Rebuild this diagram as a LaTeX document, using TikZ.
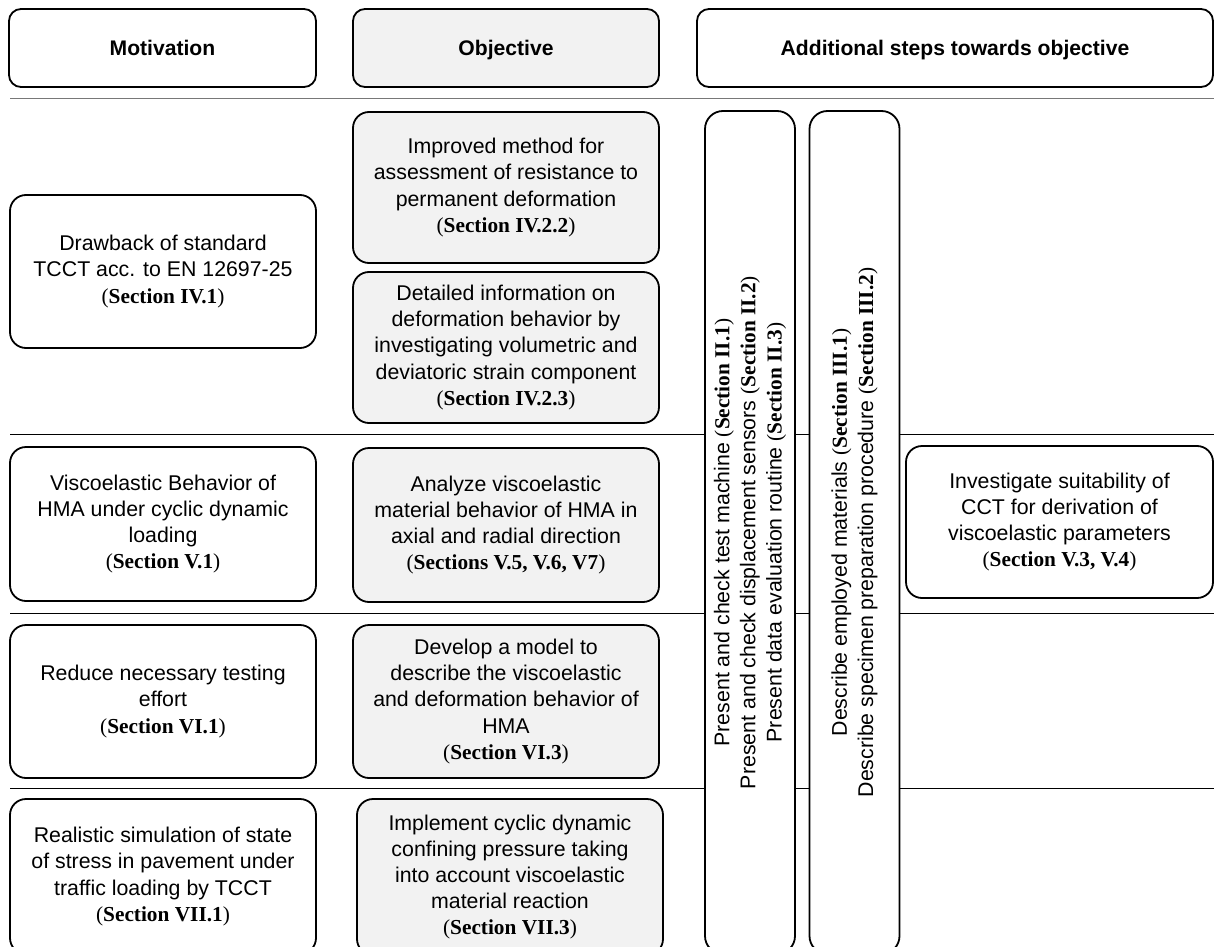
\documentclass[tikz,border=0pt]{standalone}
\usepackage{fontspec}
\setmainfont{Liberation Sans}
\newfontfamily\secfont{Liberation Serif}
\usetikzlibrary{positioning}
\definecolor{objgray}{RGB}{242,242,242}
\definecolor{rulegray}{RGB}{120,120,120}
\newcommand{\secref}[1]{{\secfont(\textbf{#1})}}

\begin{document}
\begin{tikzpicture}[x=1bp,y=1bp,
  headbox/.style={draw=black,line width=1.8bp,fill=white,rounded corners=12bp,inner sep=0pt,font=\fontsize{21.2}{26.3}\selectfont\bfseries,minimum height=78bp,text height=15bp,text depth=0bp},
  motbox/.style={draw=black,line width=1.8bp,fill=white,rounded corners=16bp,inner sep=0pt,align=center,font=\fontsize{21.4}{26.3}\selectfont,minimum width=306bp},
  objbox/.style={motbox,fill=objgray},
  stepbox/.style={motbox,rotate=90,minimum width=843bp,minimum height=90bp,rounded corners=18bp},
  sep/.style={line width=0.9bp,black}
]
\useasboundingbox (0,0) rectangle (1214,-947);
\clip (0,0) rectangle (1214,-947);

% separators between the rows
\draw[sep,rulegray] (10,-98) -- (1214,-98);
\draw[sep] (10,-434) -- (1214,-434);
\draw[sep] (10,-613) -- (1214,-613);
\draw[sep] (10,-788) -- (1214,-788);

% HEADER: three column titles
\node[headbox,minimum width=307bp] (hmot) at (162.5,-48) {Motivation};
\node[headbox,minimum width=306bp,fill=objgray] (hobj) at (506,-48) {Objective};
\node[headbox,minimum width=516bp] (hstep) at (955,-48) {Additional steps towards objective};

% LEFT: motivation
\node[motbox,minimum height=153bp] (mot1) at (163,-271.5) {Drawback of standard\\TCCT acc. to EN 12697-25\\\secref{Section IV.1}};
\node[motbox,minimum height=154bp] (mot2) at (163,-524) {Viscoelastic Behavior of\\HMA under cyclic dynamic\\loading\\\secref{Section V.1}};
\node[motbox,minimum height=153bp] (mot3) at (163,-701.5) {Reduce necessary testing\\effort\\\secref{Section VI.1}};
\node[motbox,minimum height=155bp] (mot4) at (163,-876.5) {Realistic simulation of state\\of stress in pavement under\\traffic loading by TCCT\\\secref{Section VII.1}};

% MIDDLE: objectives
\node[objbox,minimum height=151bp] (obj1) at (506,-187.5) {Improved method for\\assessment of resistance to\\permanent deformation\\\secref{Section IV.2.2}};
\node[objbox,minimum height=151bp] (obj2) at (506,-347.5) {Detailed information on\\deformation behavior by\\investigating volumetric and\\deviatoric strain component\\\secref{Section IV.2.3}};
\node[objbox,minimum height=154bp] (obj3) at (506,-525) {Analyze viscoelastic\\material behavior of HMA in\\axial and radial direction\\\secref{Sections V.5, V.6, V7}};
\node[objbox,minimum height=153bp] (obj4) at (506,-701.5) {Develop a model to\\describe the viscoelastic\\and deformation behavior of\\HMA\\\secref{Section VI.3}};
\node[objbox,minimum height=156bp] (obj5) at (510,-877) {Implement cyclic dynamic\\confining pressure taking\\into account viscoelastic\\material reaction\\\secref{Section VII.3}};

% RIGHT: additional steps
\node[stepbox] (step1) at (750,-532.5) {Present and check test machine \secref{Section II.1}\\Present and check displacement sensors \secref{Section II.2}\\Present data evaluation routine \secref{Section II.3}};
\node[stepbox] (step2) at (854.5,-532.5) {Describe employed materials \secref{Section III.1}\\Describe specimen preparation procedure \secref{Section III.2}};
\node[motbox,minimum width=307bp,minimum height=152bp] (inv) at (1059.5,-522) {Investigate suitability of\\CCT for derivation of\\viscoelastic parameters\\\secref{Section V.3, V.4}};
\end{tikzpicture}
\end{document}
